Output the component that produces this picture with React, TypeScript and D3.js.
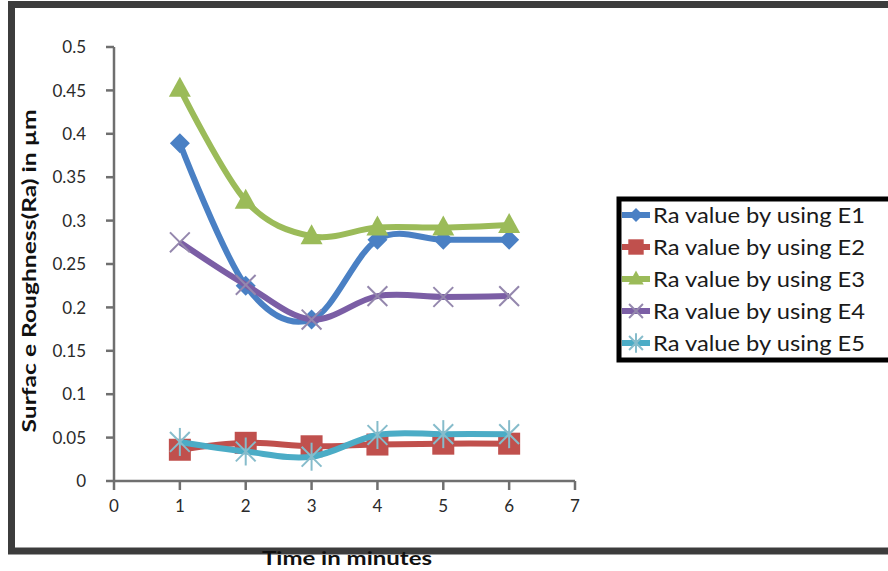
import * as d3 from 'd3'

const times = [1, 2, 3, 4, 5, 6]
const xTicks = [0, 1, 2, 3, 4, 5, 6, 7]
const yTicks = [0, 0.05, 0.1, 0.15, 0.2, 0.25, 0.3, 0.35, 0.4, 0.45, 0.5]

const raE1 = [0.389, 0.225, 0.186, 0.278, 0.278, 0.278]
const raE2 = [0.036, 0.044, 0.04, 0.042, 0.043, 0.043]
const raE3 = [0.452, 0.323, 0.282, 0.292, 0.292, 0.295]
const raE4 = [0.275, 0.226, 0.186, 0.213, 0.212, 0.213]
const raE5 = [0.045, 0.034, 0.028, 0.053, 0.054, 0.054]

const seriesNames = [
  'Ra value by using E1',
  'Ra value by using E2',
  'Ra value by using E3',
  'Ra value by using E4',
  'Ra value by using E5'
]

type MarkerKind = 'diamond' | 'square' | 'triangle' | 'x' | 'star'

const series = [
  { name: seriesNames[0], values: raE1, color: '#4a80c4', markerColor: '#4a80c4', marker: 'diamond' as MarkerKind },
  { name: seriesNames[1], values: raE2, color: '#c0504d', markerColor: '#c0504d', marker: 'square' as MarkerKind },
  { name: seriesNames[2], values: raE3, color: '#9bbb59', markerColor: '#9bbb59', marker: 'triangle' as MarkerKind },
  { name: seriesNames[3], values: raE4, color: '#7b5ea5', markerColor: '#9487ad', marker: 'x' as MarkerKind },
  { name: seriesNames[4], values: raE5, color: '#4bacc6', markerColor: '#86bccb', marker: 'star' as MarkerKind }
]

const font = 'Lato, "Open Sans", sans-serif'

function Marker({ kind, x, y, color, s = 1 }: { kind: MarkerKind; x: number; y: number; color: string; s?: number }) {
  const r = 10 * s
  if (kind === 'diamond') {
    return <path d={`M${x},${y - r}L${x + r},${y}L${x},${y + r}L${x - r},${y}Z`} fill={color} />
  }
  if (kind === 'square') {
    return <rect x={x - r * 1.1} y={y - r * 1.1} width={r * 2.2} height={r * 2.2} fill={color} />
  }
  if (kind === 'triangle') {
    return <path d={`M${x},${y - r * 1.2}L${x + r * 1.1},${y + r * 0.8}L${x - r * 1.1},${y + r * 0.8}Z`} fill={color} />
  }
  const arms = kind === 'x' ? [45, 135] : [45, 135, 90]
  return (
    <g stroke={color} strokeWidth={2}>
      {arms.map(a => {
        const rad = (a * Math.PI) / 180
        const dx = Math.cos(rad) * r * 1.4
        const dy = Math.sin(rad) * r * 1.4
        return <line key={a} x1={x - dx} y1={y - dy} x2={x + dx} y2={y + dy} />
      })}
    </g>
  )
}

export default function App() {
  const width = 888
  const height = 571

  const x = d3.scaleLinear().domain([0, 7]).range([114, 575])
  const y = d3.scaleLinear().domain([0, 0.5]).range([481, 47])

  const line = d3
    .line<number>()
    .x((_, i) => x(times[i]))
    .y(d => y(d))
    .curve(d3.curveCardinal.tension(0))

  const legendX = 619
  const legendRows = [215, 247, 279, 311, 343]

  return (
    <svg width={width} height={height} style={{ position: 'absolute', left: 0, top: 0, background: '#fff' }}>
      {/* outer frame */}
      <rect x={11.5} y={4.5} width={1000} height={546.5} fill="none" stroke="#3c3c3c" strokeWidth={7} />

      {/* axes */}
      <g stroke="#6f6f6f" strokeWidth={2.5} fill="none">
        <line x1={x(0)} x2={x(7)} y1={y(0)} y2={y(0)} />
        <line x1={x(0)} x2={x(0)} y1={y(0)} y2={y(0.5)} />
        {xTicks.map(t => (
          <line key={'xt' + t} x1={x(t)} x2={x(t)} y1={y(0)} y2={y(0) + 9} />
        ))}
        {yTicks.map(t => (
          <line key={'yt' + t} x1={x(0) - 8} x2={x(0)} y1={y(t)} y2={y(t)} />
        ))}
      </g>
      <g fontFamily={font} fontSize={17} fill="#2a2a2a">
        {xTicks.map(t => (
          <text key={'xl' + t} x={x(t)} y={512} textAnchor="middle">
            {t}
          </text>
        ))}
        {yTicks.map(t => (
          <text key={'yl' + t} x={86} y={y(t)} dy="0.36em" textAnchor="end">
            {d3.format('')(t)}
          </text>
        ))}
      </g>

      {/* series */}
      {series.map(s => (
        <g key={s.name}>
          <path d={line(s.values) ?? ''} fill="none" stroke={s.color} strokeWidth={6} strokeLinejoin="round" />
          {s.values.map((v, i) => (
            <Marker key={i} kind={s.marker} x={x(times[i])} y={y(v)} color={s.markerColor} />
          ))}
        </g>
      ))}

      {/* axis titles */}
      <text
        x={347}
        y={565}
        textAnchor="middle"
        fontFamily={font}
        fontWeight="bold"
        fontSize={18}
        fill="#111"
        textLength={170}
        lengthAdjust="spacingAndGlyphs"
      >
        Time in minutes
      </text>
      <text
        transform="translate(36,271) rotate(-90)"
        textAnchor="middle"
        fontFamily={font}
        fontWeight="bold"
        fontSize={18}
        fill="#111"
        textLength={323}
        lengthAdjust="spacingAndGlyphs"
      >
        Surfac e Roughness(Ra) in µm
      </text>

      {/* legend */}
      <rect x={legendX} y={199} width={400} height={161} fill="#fff" stroke="#000" strokeWidth={5} />
      {series.map((s, i) => (
        <g key={'lg' + s.name}>
          <line x1={legendX + 3} x2={legendX + 31} y1={legendRows[i]} y2={legendRows[i]} stroke={s.color} strokeWidth={6} />
          <Marker kind={s.marker} x={legendX + 17} y={legendRows[i]} color={s.markerColor} s={0.7} />
          <text
            x={653}
            y={legendRows[i]}
            dy="0.36em"
            fontFamily={font}
            fontSize={21}
            fill="#1a1a1a"
            textLength={212}
            lengthAdjust="spacingAndGlyphs"
          >
            {s.name}
          </text>
        </g>
      ))}
    </svg>
  )
}
